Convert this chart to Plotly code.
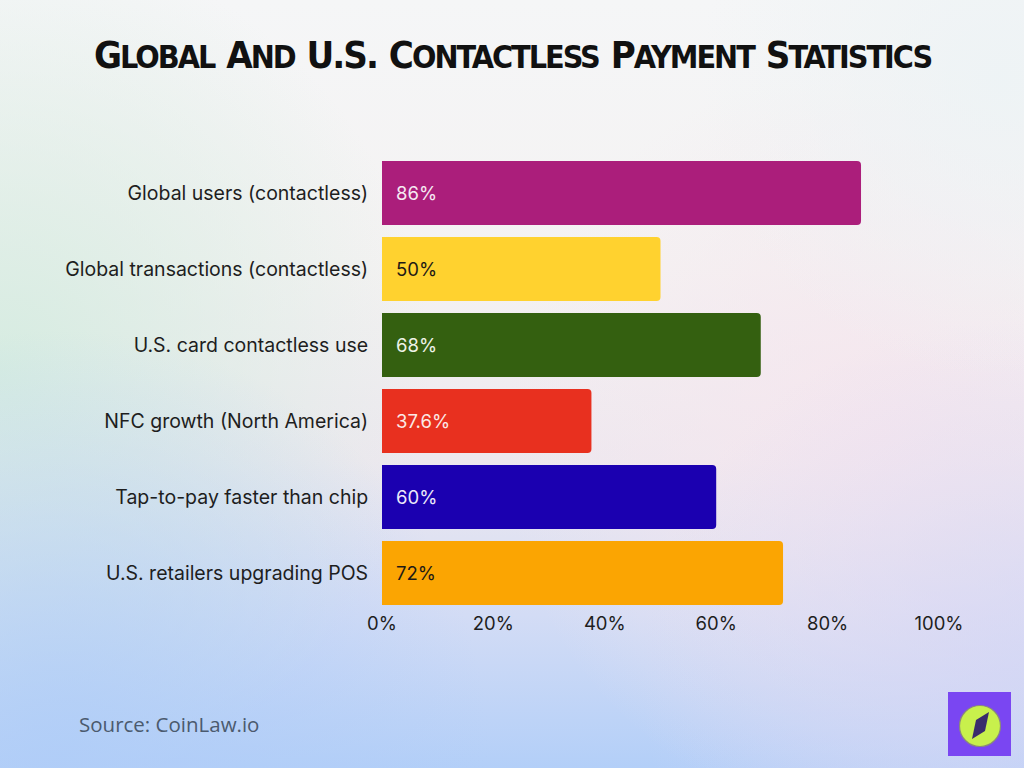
import base64
import plotly.graph_objects as go

# ---- data ----
categories = [
    "Global users (contactless)",
    "Global transactions (contactless)",
    "U.S. card contactless use",
    "NFC growth (North America)",
    "Tap-to-pay faster than chip",
    "U.S. retailers upgrading POS",
]
values = [86, 50, 68, 37.6, 60, 72]
bar_colors = ["#ab1e7b", "#ffd22f", "#346010", "#e8301f", "#1b00b0", "#fba502"]
label_colors = ["#f6eaf3", "#1e1a16", "#eef3e8", "#fbe9e6", "#ece9fa", "#1e1a16"]
x_ticks = [0, 20, 40, 60, 80, 100]
x_tick_labels = ["0%", "20%", "40%", "60%", "80%", "100%"]
title_words = ["Global", "and", "U.S.", "Contactless", "Payment", "Statistics"]

W, H = 1024, 768
M_L, M_R, M_T, M_B = 382, 85, 155, 157
PW, PH = W - M_L - M_R, H - M_T - M_B

# ---- soft gradient backdrop with the brand badge ----
bg_svg = f"""<svg xmlns='http://www.w3.org/2000/svg' width='{W}' height='{H}' viewBox='0 0 {W} {H}'>
<defs>
<linearGradient id='base' x1='0' y1='0' x2='0' y2='1'>
<stop offset='0' stop-color='#f5f6f7'/>
<stop offset='0.35' stop-color='#f4f2f2'/>
<stop offset='0.6' stop-color='#ede8ef'/>
<stop offset='0.8' stop-color='#d3dcf5'/>
<stop offset='1' stop-color='#b3cff8'/>
</linearGradient>
<radialGradient id='green' cx='0' cy='370' r='430' gradientUnits='userSpaceOnUse'>
<stop offset='0' stop-color='#d6ece1' stop-opacity='1'/>
<stop offset='1' stop-color='#d6ece1' stop-opacity='0'/>
</radialGradient>
<radialGradient id='pink' cx='880' cy='440' r='380' gradientUnits='userSpaceOnUse'>
<stop offset='0' stop-color='#f6e6ee' stop-opacity='0.9'/>
<stop offset='1' stop-color='#f6e6ee' stop-opacity='0'/>
</radialGradient>
<radialGradient id='lav' cx='1000' cy='680' r='360' gradientUnits='userSpaceOnUse'>
<stop offset='0' stop-color='#d5d6f5' stop-opacity='0.7'/>
<stop offset='1' stop-color='#d5d6f5' stop-opacity='0'/>
</radialGradient>
<radialGradient id='blue' cx='60' cy='760' r='430' gradientUnits='userSpaceOnUse'>
<stop offset='0' stop-color='#b0cdf8' stop-opacity='0.9'/>
<stop offset='1' stop-color='#b0cdf8' stop-opacity='0'/>
</radialGradient>
<radialGradient id='tr' cx='1000' cy='80' r='300' gradientUnits='userSpaceOnUse'>
<stop offset='0' stop-color='#edf3f5' stop-opacity='0.9'/>
<stop offset='1' stop-color='#edf3f5' stop-opacity='0'/>
</radialGradient>
</defs>
<rect width='{W}' height='{H}' fill='url(#base)'/>
<rect width='{W}' height='{H}' fill='url(#green)'/>
<rect width='{W}' height='{H}' fill='url(#pink)'/>
<rect width='{W}' height='{H}' fill='url(#lav)'/>
<rect width='{W}' height='{H}' fill='url(#blue)'/>
<rect width='{W}' height='{H}' fill='url(#tr)'/>
<rect x='948' y='692' width='63' height='64' fill='#7a46f2'/>
<circle cx='980' cy='726' r='20.5' fill='#c8f04c' stroke='#8a8a7a' stroke-width='1.2'/>
<path d='M972 739 L976 720 L989 712 L985 731 Z' fill='#3a2c6c'/>
</svg>"""
bg_uri = "data:image/svg+xml;base64," + base64.b64encode(bg_svg.encode()).decode()


def px_x(px):
    return (px - M_L) / PW


def px_y(py):
    return (H - M_B - py) / PH


fig = go.Figure()
fig.add_trace(
    go.Bar(
        y=categories,
        x=values,
        orientation="h",
        marker=dict(color=bar_colors, line=dict(width=0), cornerradius=4),
        hoverinfo="skip",
    )
)

# value labels sit just inside the start of each bar
for cat, v, c in zip(categories, values, label_colors):
    fig.add_annotation(
        x=0, y=cat, xref="x", yref="y",
        text=f"{v:g}%", showarrow=False,
        xanchor="left", xshift=12,
        font=dict(family="Inter, Lato, sans-serif", size=18.5, color=c),
    )


# title in condensed small caps: enlarged initial capitals
def small_caps(words, big=38, small=32):
    st = "font-stretch:condensed;letter-spacing:-2px;"
    out = []
    for w in words:
        if "." in w:
            out.append(f"<span style='font-size:{big}px;{st}'>{w.upper()}</span>")
        else:
            out.append(f"<span style='font-size:{big}px;{st}'>{w[0].upper()}</span>"
                       f"<span style='font-size:{small}px;{st}'>{w[1:].upper()}</span>")
    return " ".join(out)


fig.add_annotation(
    x=px_x(W / 2), y=px_y(55), xref="paper", yref="paper",
    xanchor="center", yanchor="middle",
    text=small_caps(title_words), showarrow=False,
    font=dict(family="DejaVu Sans Condensed, DejaVu Sans, sans-serif",
              size=38, color="#111111", weight="bold"),
)

fig.add_annotation(
    xref="paper", yref="paper",
    x=px_x(77), y=px_y(724),
    xanchor="left", yanchor="middle",
    text="Source: CoinLaw.io", showarrow=False,
    font=dict(family="Open Sans, sans-serif", size=20.5, color="#4b5a6e"),
)

fig.update_layout(
    width=W, height=H,
    margin=dict(l=M_L, r=M_R, t=M_T, b=M_B, pad=0),
    paper_bgcolor="rgba(0,0,0,0)",
    plot_bgcolor="rgba(0,0,0,0)",
    bargap=0.16,
    showlegend=False,
    images=[dict(
        source=bg_uri, xref="paper", yref="paper",
        x=-M_L / PW, y=1 + M_T / PH,
        sizex=W / PW, sizey=H / PH,
        xanchor="left", yanchor="top",
        sizing="stretch", layer="below",
    )],
    xaxis=dict(
        range=[0, 100], tickvals=x_ticks, ticktext=x_tick_labels,
        showgrid=False, zeroline=False, showline=False,
        anchor="free", position=0.002,
        ticks="", ticklen=0,
        tickfont=dict(family="Inter, Lato, sans-serif", size=18.5, color="#1e1e1e"),
        fixedrange=True,
    ),
    yaxis=dict(
        autorange="reversed", showgrid=False, zeroline=False, showline=False,
        ticks="outside", ticklen=9, tickcolor="rgba(0,0,0,0)",
        tickfont=dict(family="Inter, Lato, sans-serif", size=19.5, color="#1e1e1e"),
        fixedrange=True,
    ),
)

fig.write_html("out.html")
